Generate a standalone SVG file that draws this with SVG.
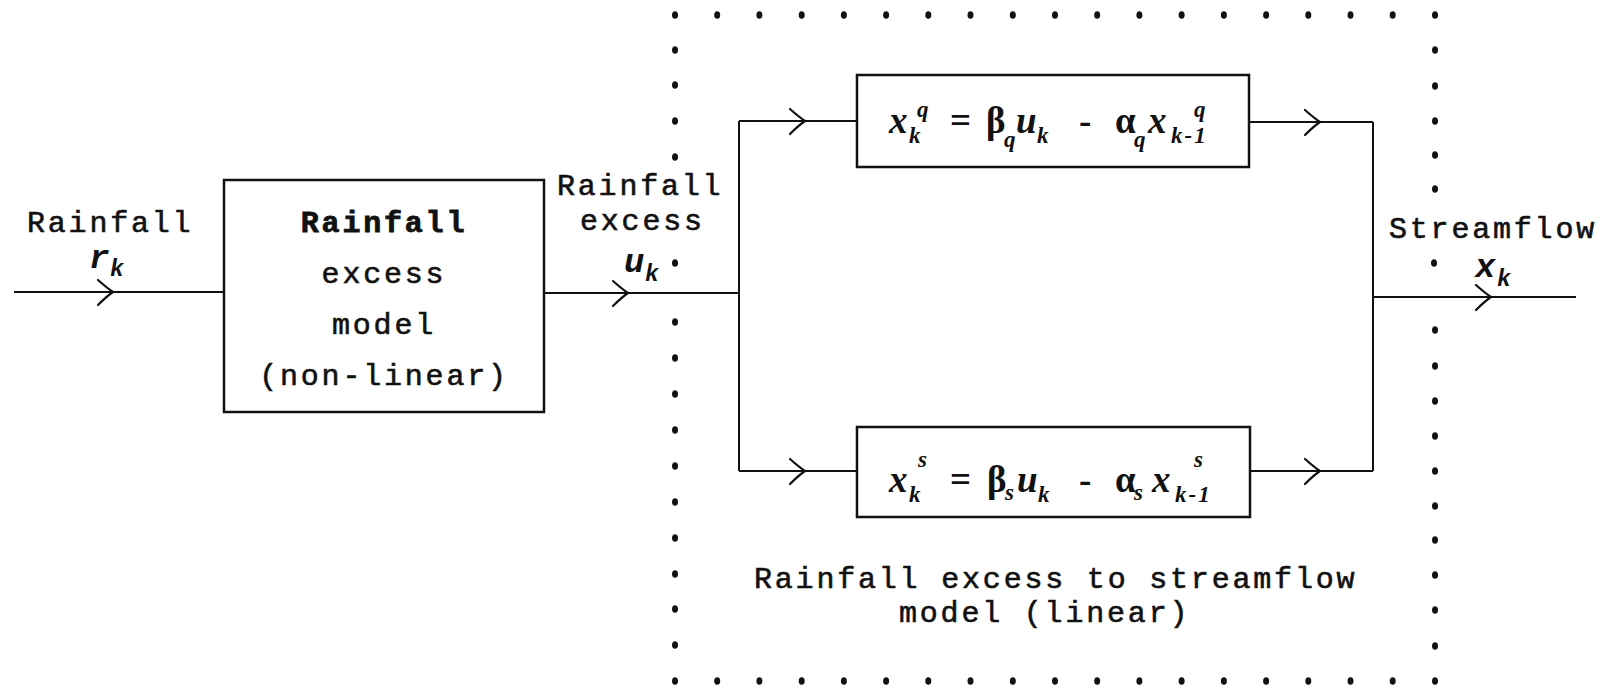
<svg xmlns="http://www.w3.org/2000/svg" xmlns:xlink="http://www.w3.org/1999/xlink" width="1606" height="688" viewBox="0 0 1606 688">
<style>
.ln{stroke:#111;stroke-width:2;fill:none}
.ch{stroke:#111;stroke-width:2.2;fill:none;stroke-linecap:round}
.box{stroke:#111;stroke-width:2.5;fill:#fff}
.t{font-family:"Liberation Mono","DejaVu Sans Mono",monospace;font-size:30px;letter-spacing:2.8px;fill:#111;stroke:#111;stroke-width:0.6}
.tb{font-weight:bold;stroke-width:0.8}
.lv{font-family:"Liberation Mono","DejaVu Sans Mono",monospace;font-style:italic;font-weight:bold;font-size:34px;fill:#111}
.v{font-family:"Liberation Serif","DejaVu Serif",serif;font-style:italic;font-weight:bold;font-size:37px;fill:#111}
.g{font-family:"Liberation Serif","DejaVu Serif",serif;font-weight:bold;font-size:37px;fill:#111}
.s{font-size:23px}
.k1{letter-spacing:2px}
.dot{fill:#111}
</style>
<defs>
<path id="chev" class="ch" d="M-15,-12 Q-6,-4 0,0 Q-6,4 -15,13"/>
<ellipse id="d" class="dot" rx="3" ry="3.8"/>
</defs>

<g id="container">
<g id="top-dots">
<use href="#d" x="675" y="15"/><use href="#d" x="717.2" y="15"/><use href="#d" x="759.4" y="15"/><use href="#d" x="801.7" y="15"/><use href="#d" x="843.9" y="15"/><use href="#d" x="886.1" y="15"/><use href="#d" x="928.3" y="15"/><use href="#d" x="970.5" y="15"/><use href="#d" x="1012.8" y="15"/><use href="#d" x="1055" y="15"/><use href="#d" x="1097.2" y="15"/><use href="#d" x="1139.4" y="15"/><use href="#d" x="1181.6" y="15"/><use href="#d" x="1223.9" y="15"/><use href="#d" x="1266.1" y="15"/><use href="#d" x="1308.3" y="15"/><use href="#d" x="1350.5" y="15"/><use href="#d" x="1392.7" y="15"/><use href="#d" x="1435" y="15"/>
</g>
<g id="bottom-dots">
<use href="#d" x="675" y="681"/><use href="#d" x="717.2" y="681"/><use href="#d" x="759.4" y="681"/><use href="#d" x="801.7" y="681"/><use href="#d" x="843.9" y="681"/><use href="#d" x="886.1" y="681"/><use href="#d" x="928.3" y="681"/><use href="#d" x="970.5" y="681"/><use href="#d" x="1012.8" y="681"/><use href="#d" x="1055" y="681"/><use href="#d" x="1097.2" y="681"/><use href="#d" x="1139.4" y="681"/><use href="#d" x="1181.6" y="681"/><use href="#d" x="1223.9" y="681"/><use href="#d" x="1266.1" y="681"/><use href="#d" x="1308.3" y="681"/><use href="#d" x="1350.5" y="681"/><use href="#d" x="1392.7" y="681"/><use href="#d" x="1435" y="681"/>
</g>
<g id="left-dots">
<use href="#d" x="675" y="50"/><use href="#d" x="675" y="85"/><use href="#d" x="675" y="121"/><use href="#d" x="675" y="157"/><use href="#d" x="675" y="263"/><use href="#d" x="675" y="322"/><use href="#d" x="675" y="358"/><use href="#d" x="675" y="394"/><use href="#d" x="675" y="430"/><use href="#d" x="675" y="466"/><use href="#d" x="675" y="502"/><use href="#d" x="675" y="538"/><use href="#d" x="675" y="574"/><use href="#d" x="675" y="609"/><use href="#d" x="675" y="645"/>
</g>
<g id="right-dots">
<use href="#d" x="1435" y="50"/><use href="#d" x="1435" y="86"/><use href="#d" x="1435" y="121"/><use href="#d" x="1435" y="155"/><use href="#d" x="1435" y="189"/><use href="#d" x="1434" y="263"/><use href="#d" x="1435" y="330"/><use href="#d" x="1435" y="366"/><use href="#d" x="1435" y="401"/><use href="#d" x="1435" y="436"/><use href="#d" x="1435" y="471"/><use href="#d" x="1435" y="506"/><use href="#d" x="1435" y="540"/><use href="#d" x="1435" y="575"/><use href="#d" x="1435" y="610"/><use href="#d" x="1435" y="646"/>
</g>
<text class="t" x="754" y="588">Rainfall excess to streamflow</text>
<text class="t" x="899" y="622">model (linear)</text>
</g>

<g id="connectors">
<path class="ln" d="M14,292 H224"/>
<path class="ln" d="M544,293 H739"/>
<path class="ln" d="M739,121 V471"/>
<path class="ln" d="M739,121 H857"/>
<path class="ln" d="M739,471 H857"/>
<path class="ln" d="M1249,122 H1373"/>
<path class="ln" d="M1250,471 H1373"/>
<path class="ln" d="M1373,122 V471"/>
<path class="ln" d="M1373,297 H1576"/>
<use href="#chev" x="113" y="292"/>
<use href="#chev" x="628" y="293"/>
<use href="#chev" x="805" y="121"/>
<use href="#chev" x="805" y="471"/>
<use href="#chev" x="1320" y="122"/>
<use href="#chev" x="1320" y="471"/>
<use href="#chev" x="1491" y="297"/>
</g>

<g id="input-label">
<text class="t" x="27" y="232">Rainfall</text>
<text class="lv" x="89" y="268">r</text>
<text class="lv s" x="110" y="276">k</text>
</g>

<g id="excess-model">
<rect class="box" x="224" y="180" width="320" height="232"/>
<text class="t tb" x="384" y="232" text-anchor="middle">Rainfall</text>
<text class="t" x="384" y="283" text-anchor="middle">excess</text>
<text class="t" x="384" y="334" text-anchor="middle">model</text>
<text class="t" x="384" y="385" text-anchor="middle">(non-linear)</text>
</g>

<g id="excess-label">
<text class="t" x="557" y="195">Rainfall</text>
<text class="t" x="580" y="230">excess</text>
<text class="lv" x="624" y="272">u</text>
<text class="lv s" x="645" y="281">k</text>
</g>

<g id="quick-flow">
<rect class="box" x="857" y="75" width="392" height="92"/>
<text class="v" x="889" y="133">x</text>
<text class="v s" x="909" y="143">k</text>
<text class="v s" x="917" y="117">q</text>
<text class="g" x="950" y="133">=</text>
<text class="g" x="986" y="133">β</text>
<text class="v s" x="1004" y="147">q</text>
<text class="v" x="1016" y="133">u</text>
<text class="v s" x="1037" y="143">k</text>
<text class="g" x="1079" y="133">-</text>
<text class="g" x="1115" y="133">α</text>
<text class="v s" x="1134" y="147">q</text>
<text class="v" x="1148" y="133">x</text>
<text class="v s k1" x="1171" y="143">k-1</text>
<text class="v s" x="1194" y="117">q</text>
</g>

<g id="slow-flow">
<rect class="box" x="857" y="427" width="393" height="90"/>
<text class="v" x="889" y="492">x</text>
<text class="v s" x="909" y="502">k</text>
<text class="v s" x="918" y="467">s</text>
<text class="g" x="950" y="492">=</text>
<text class="g" x="987" y="492">β</text>
<text class="v s" x="1005" y="500">s</text>
<text class="v" x="1017" y="492">u</text>
<text class="v s" x="1038" y="502">k</text>
<text class="g" x="1079" y="492">-</text>
<text class="g" x="1115" y="492">α</text>
<text class="v s" x="1134" y="500">s</text>
<text class="v" x="1152" y="492">x</text>
<text class="v s k1" x="1175" y="502">k-1</text>
<text class="v s" x="1194" y="467">s</text>
</g>

<g id="output-label">
<text class="t" x="1389" y="238">Streamflow</text>
<text class="lv" x="1475" y="277">x</text>
<text class="lv s" x="1497" y="286">k</text>
</g>
</svg>
